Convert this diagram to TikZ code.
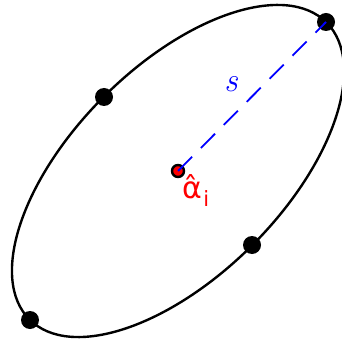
\documentclass[tikz,border=0pt]{standalone}
\usepackage{fontspec}
\newfontfamily\dejavu{DejaVu Sans}
\begin{document}
\begin{tikzpicture}[x=1pt,y=-1pt,
  dot/.style={circle,fill=black,inner sep=0pt,minimum size=18pt},
  cdot/.style={circle,draw=black,fill=red,line width=2.4pt,inner sep=0pt,minimum size=12pt},
  sline/.style={blue,line width=1.8pt,dash pattern=on 20pt off 12.5pt}]
\useasboundingbox (0,0) rectangle (341,344);
\coordinate (c) at (178,171);
\draw[line width=2.4pt] (c) ellipse [x radius=210, y radius=105, rotate=45];
\node[dot] (p1) at (326,22) {};
\node[dot] (p2) at (104,97) {};
\node[dot] (p3) at (252,245) {};
\node[dot] (p4) at (30,320) {};
\node[cdot] (ctr) at (c) {};
\draw[sline] (c) -- (p1.center);
\node[blue,font=\fontsize{34pt}{34pt}\selectfont\itshape,inner sep=0pt] (s) at (231,84) {s};
\node[red,font=\dejavu\fontsize{30pt}{30pt}\selectfont,inner sep=0pt] (a) at (196,191) {α̂\kern1pt\raisebox{-8pt}{\fontsize{21pt}{21pt}\selectfont i}};
\end{tikzpicture}
\end{document}
